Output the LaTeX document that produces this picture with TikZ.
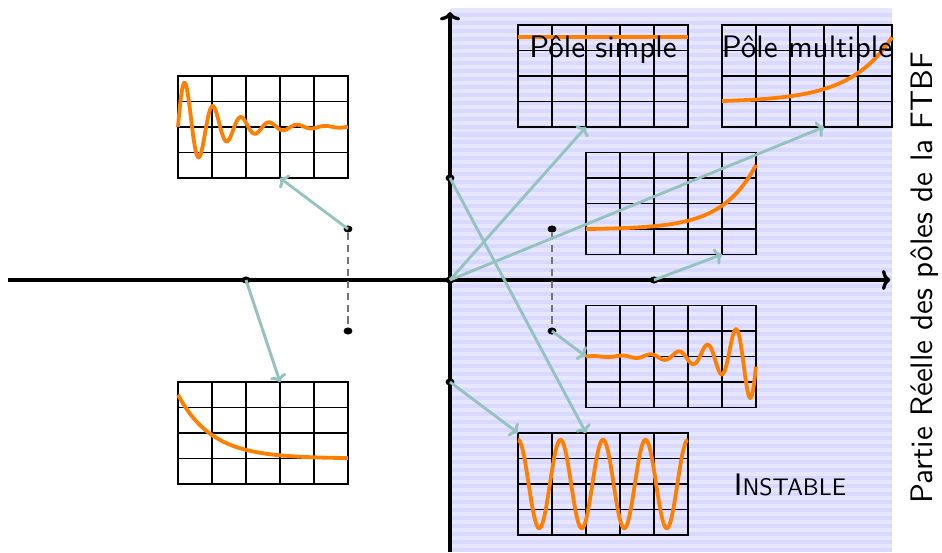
\documentclass[tikz,border=0pt]{standalone}
\usepackage{fontspec}
\setsansfont{lmsans10-regular.otf}
\usepackage{xcolor}
\usepackage{tikz}
\usetikzlibrary{arrows.meta,shapes.geometric}
\definecolor{planbg}{HTML}{E6E6FF}
\definecolor{planstripe}{HTML}{D9D9FF}
\definecolor{linkcol}{HTML}{94C2BD}
\definecolor{signal}{HTML}{FF8000}

\begin{document}
\begin{tikzpicture}[font=\sffamily\fontsize{26}{31}\selectfont,
  pole/.style={ellipse, fill=black, inner sep=0pt, minimum width=0.26cm, minimum height=0.21cm},
  screen/.style={line width=0.9pt, xstep=1, ystep=0.75},
  curve/.style={signal, line width=3.2pt},
  link/.style={-{To[length=6pt, width=14pt]}, linkcol, line width=2.4pt},
  axis/.style={-{To[length=7pt, width=17pt]}, line width=2.8pt}]
  \useasboundingbox (-13.235,-8) rectangle (14.47,8.235);

  % Demi-plan droit (instable)
  \fill[planbg] (0,-8) rectangle (13,8);
  \foreach \k in {0,...,67}
    \fill[planstripe] (0,{-8+\k*0.235}) rectangle (13,{-7.882+\k*0.235});

  % Ecrans
  \foreach \a/\b in {-8/3, -8/-6, 2/4.5, 8/4.5, 4/0.75, 4/-3.75, 2/-7.5}
    \draw[screen] (\a,\b) grid (\a+5,\b+3) (\a,\b) rectangle (\a+5,\b+3);

  % Reponses
  \begin{scope}[shift={(-8,3)}]
    \draw[curve] plot[domain=0:5, samples=250] (\x,{1.5+1.55*exp(-0.9*\x)*sin(435*\x)});
  \end{scope}
  \begin{scope}[shift={(-8,-6)}]
    \draw[curve] plot[domain=0:5, samples=100] (\x,{0.75+1.875*exp(-\x)});
  \end{scope}
  \begin{scope}[shift={(2,4.5)}]
    \draw[curve] (0,2.65) -- (5,2.65);
  \end{scope}
  \begin{scope}[shift={(8,4.5)}]
    \draw[curve] plot[domain=0:5, samples=100] (\x,{0.765+0.035*(exp(0.8*\x)-1)});
  \end{scope}
  \begin{scope}[shift={(4,0.75)}]
    \draw[curve] plot[domain=0:5, samples=100] (\x,{0.75+0.01277*(exp(\x)-1)});
  \end{scope}
  \begin{scope}[shift={(4,-3.75)}]
    \draw[curve] plot[domain=0:5, samples=300] (\x,{1.5+0.0098*exp(\x)*sin(430*\x)});
  \end{scope}
  \begin{scope}[shift={(2,-7.5)}]
    \draw[curve] plot[domain=0:5, samples=300] (\x,{1.5+1.3*cos(288*\x)});
  \end{scope}

  % Textes
  \node[anchor=base] (simple) at (4.5,6.53) {Pôle simple};
  \node[anchor=base] (multiple) at (10.5,6.53) {Pôle multiple};
  \node (instable) at (10,-6.03) {I{\fontsize{20}{24}\selectfont NSTABLE}};

  % Axes
  \draw[axis] (-13,0) -- (12.95,0);
  \draw[axis] (0,-8) -- (0,7.88);
  \node[rotate=90, anchor=base] (axe) at (14.2,0.07) {Partie Réelle des pôles de la FTBF};

  % Poles
  \node[pole] (O) at (0,0) {};
  \node[pole] (Ip) at (0,3) {};
  \node[pole] (Im) at (0,-3) {};
  \node[pole] (Rn) at (-6,0) {};
  \node[pole] (Rp) at (6,0) {};
  \node[pole] (Cn1) at (-3,1.5) {};
  \node[pole] (Cn2) at (-3,-1.5) {};
  \node[pole] (Cp1) at (3,1.5) {};
  \node[pole] (Cp2) at (3,-1.5) {};
  \draw[dash pattern=on 6pt off 4pt, black!55, line width=1pt] (Cn1) -- (Cn2);
  \draw[dash pattern=on 6pt off 4pt, black!55, line width=1pt] (Cp1) -- (Cp2);

  % Points d'arrivee
  \coordinate (toAmorti) at (-5,3);
  \coordinate (toExpo) at (-5,-3);
  \coordinate (toSimple) at (4,4.5);
  \coordinate (toMultiple) at (11,4.5);
  \coordinate (toDiverge) at (8,0.75);
  \coordinate (toOscil) at (4,-2.25);
  \coordinate (toSinusA) at (4,-4.5);
  \coordinate (toSinusB) at (2,-4.5);

  % Fleches
  \draw[link] (Cn1.center) -- (toAmorti);
  \draw[link] (Rn.center) -- (toExpo);
  \draw[link] (O.center) -- (toSimple);
  \draw[link] (O.center) -- (toMultiple);
  \draw[link] (Rp.center) -- (toDiverge);
  \draw[link] (Cp2.center) -- (toOscil);
  \draw[link] (Ip.center) -- (toSinusA);
  \draw[link] (Im.center) -- (toSinusB);
\end{tikzpicture}
\end{document}
